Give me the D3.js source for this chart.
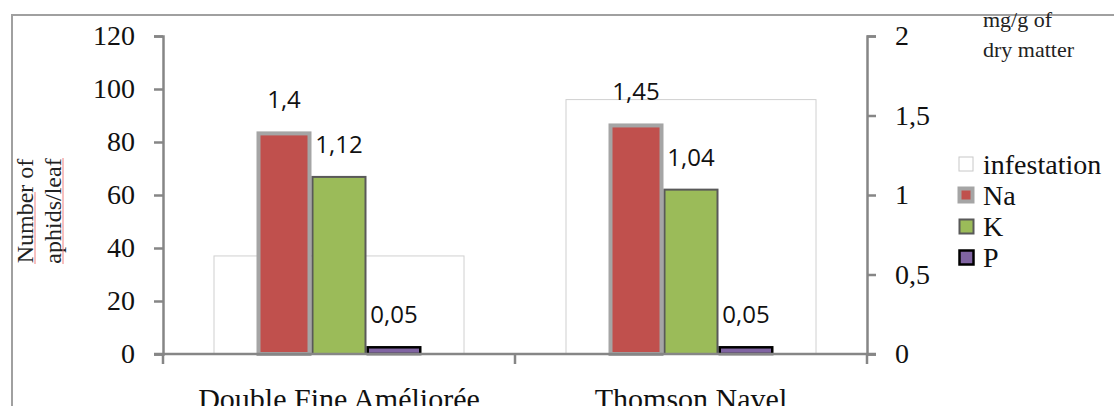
<!DOCTYPE html>
<html>
<head>
<meta charset="utf-8">
<script src="https://d3js.org/d3.v7.min.js"></script>
<style>
  body { margin: 0; background: #fff; }
  svg { display: block; }
</style>
</head>
<body>
<svg id="chart" width="1114" height="406"></svg>
<script>
// data
var varieties = ['Double Fine Améliorée', 'Thomson Navel'];
var infestation = [37, 96];          // aphids per leaf (left axis)
var minerals = ['Na', 'K', 'P'];
var naValues = [1.4, 1.45];          // mg/g of dry matter (right axis)
var kValues = [1.12, 1.04];
var pValues = [0.05, 0.05];
var naLabels = ['1,4', '1,45'];
var kLabels = ['1,12', '1,04'];
var pLabels = ['0,05', '0,05'];
var leftTicks = [0, 20, 40, 60, 80, 100, 120];
var rightTicks = [0, 0.5, 1, 1.5, 2];
var rightTickLabels = ['0', '0,5', '1', '1,5', '2'];

var mineralValues = { Na: naValues, K: kValues, P: pValues };
var mineralLabels = { Na: naLabels, K: kLabels, P: pLabels };
var fills = { Na: '#c0504d', K: '#9bbb59', P: '#8064a2' };
var strokes = { Na: '#a5a5a5', K: '#595959', P: '#000000' };
var strokeW = { Na: 4, K: 2, P: 2.5 };

var svg = d3.select('#chart');
var serif = "'Liberation Serif', 'Times New Roman', serif";
var axisColor = '#868686';

var x0 = 163, x1 = 867, yTop = 36, yBase = 354;

var xs = d3.scaleBand().domain(varieties).range([x0, x1]);
var yl = d3.scaleLinear().domain([0, 120]).range([yBase, yTop]);
var yr = d3.scaleLinear().domain([0, 2]).range([yBase, yTop]);
var inner = d3.scaleBand().domain(minerals).range([-82.5, 82.5]);
var infW = 250;

// outer frame
svg.append('path')
  .attr('d', 'M12,420 L12,15 L1120,15')
  .attr('fill', 'none').attr('stroke', '#a0a0a0').attr('stroke-width', 2);

// infestation bars (behind)
svg.append('g').selectAll('rect')
  .data(varieties)
  .enter().append('rect')
    .attr('x', function(d) { return xs(d) + xs.bandwidth() / 2 - infW / 2; })
    .attr('y', function(d, i) { return yl(infestation[i]); })
    .attr('width', infW)
    .attr('height', function(d, i) { return yBase - yl(infestation[i]); })
    .attr('fill', '#fff')
    .attr('stroke', '#d0d0d0')
    .attr('stroke-width', 1);

// mineral bars
minerals.forEach(function(m) {
  var g = svg.append('g');
  g.selectAll('rect')
    .data(varieties)
    .enter().append('rect')
      .attr('x', function(d) { return xs(d) + xs.bandwidth() / 2 + inner(m) + strokeW[m] / 2; })
      .attr('y', function(d, i) { return yr(mineralValues[m][i]) + strokeW[m] / 2; })
      .attr('width', inner.bandwidth() - strokeW[m])
      .attr('height', function(d, i) { return yBase - yr(mineralValues[m][i]) - strokeW[m] / 2; })
      .attr('fill', fills[m])
      .attr('stroke', strokes[m])
      .attr('stroke-width', strokeW[m]);
});

// axes
var leftAxis = svg.append('g')
  .attr('transform', 'translate(' + x0 + ',0)')
  .call(d3.axisLeft(yl).tickValues(leftTicks).tickSize(9).tickPadding(19).tickFormat(d3.format('d')));
var rightAxis = svg.append('g')
  .attr('transform', 'translate(' + x1 + ',0)')
  .call(d3.axisRight(yr).tickValues(rightTicks).tickSize(9).tickPadding(19)
    .tickFormat(function(d, i) { return rightTickLabels[i]; }));
[leftAxis, rightAxis].forEach(function(a) {
  a.select('.domain').attr('stroke', axisColor).attr('stroke-width', 2.5);
  a.selectAll('.tick line').attr('stroke', axisColor).attr('stroke-width', 2.5);
  a.selectAll('.tick text').attr('font-family', serif).attr('font-size', 28).attr('fill', '#111');
});
rightAxis.selectAll('.tick text').attr('x', 28);

// x axis baseline and category ticks
var bottom = svg.append('g')
  .attr('transform', 'translate(0,' + yBase + ')')
  .call(d3.axisBottom(xs).tickSize(0).tickPadding(34));
bottom.select('.domain').remove();
bottom.selectAll('.tick text').attr('font-family', serif).attr('font-size', 30).attr('fill', '#111');
svg.append('line')
  .attr('x1', x0 - 9).attr('x2', x1 + 9).attr('y1', yBase).attr('y2', yBase)
  .attr('stroke', axisColor).attr('stroke-width', 2.5);
svg.append('g').selectAll('line')
  .data([x0, xs(varieties[1]), x1])
  .enter().append('line')
    .attr('x1', function(d) { return d; }).attr('x2', function(d) { return d; })
    .attr('y1', yBase).attr('y2', yBase + 10)
    .attr('stroke', axisColor).attr('stroke-width', 2.5);

// value labels
minerals.forEach(function(m) {
  svg.append('g').selectAll('text')
    .data(varieties)
    .enter().append('text')
      .attr('x', function(d) { return xs(d) + xs.bandwidth() / 2 + inner(m) + inner.bandwidth() / 2; })
      .attr('y', function(d, i) { return yr(mineralValues[m][i]) - 23; })
      .attr('text-anchor', 'middle')
      .attr('font-family', "'Open Sans', sans-serif")
      .attr('font-size', 24)
      .attr('fill', '#111')
      .text(function(d, i) { return mineralLabels[m][i]; });
});

// left axis title
var lt = svg.append('g').attr('transform', 'translate(0,211) rotate(-90)');
lt.append('text').attr('x', 0).attr('y', 33).attr('text-anchor', 'middle')
  .attr('font-family', serif).attr('font-size', 24).attr('fill', '#222').text('Number of');
lt.append('text').attr('x', 0).attr('y', 61).attr('text-anchor', 'middle')
  .attr('font-family', serif).attr('font-size', 24).attr('fill', '#222').text('aphids/leaf');
// spell-check style underlines
lt.append('line').attr('x1', -53).attr('x2', 19).attr('y1', 35).attr('y2', 35)
  .attr('stroke', '#f08080').attr('stroke-width', 1);
lt.append('line').attr('x1', -53).attr('x2', 53).attr('y1', 63).attr('y2', 63)
  .attr('stroke', '#f08080').attr('stroke-width', 1);

// right axis title
svg.append('text').attr('x', 983).attr('y', 27)
  .attr('font-family', serif).attr('font-size', 22).attr('fill', '#222').text('mg/g of');
svg.append('text').attr('x', 983).attr('y', 57)
  .attr('font-family', serif).attr('font-size', 22).attr('fill', '#222').text('dry matter');

// legend
var legendItems = ['infestation'].concat(minerals);
var legend = svg.append('g').attr('transform', 'translate(958,157)');
var li = legend.selectAll('g')
  .data(legendItems)
  .enter().append('g')
    .attr('transform', function(d, i) { return 'translate(0,' + (i * 31) + ')'; });
li.append('rect')
  .attr('x', function(d) { return d === 'infestation' ? 1 : 1.5; })
  .attr('y', function(d) { return d === 'infestation' ? 0 : 0.5; })
  .attr('width', function(d) { return d === 'Na' ? 13 : 14; })
  .attr('height', function(d) { return d === 'Na' ? 13 : 14; })
  .attr('fill', function(d) { return d === 'infestation' ? '#fff' : fills[d]; })
  .attr('stroke', function(d) { return d === 'infestation' ? '#c8c8c8' : strokes[d]; })
  .attr('stroke-width', function(d) { return d === 'infestation' ? 1 : strokeW[d]; });
li.append('text')
  .attr('x', 25).attr('y', 17)
  .attr('font-family', serif).attr('font-size', 28).attr('fill', '#111')
  .text(function(d) { return d; });
</script>
</body>
</html>
